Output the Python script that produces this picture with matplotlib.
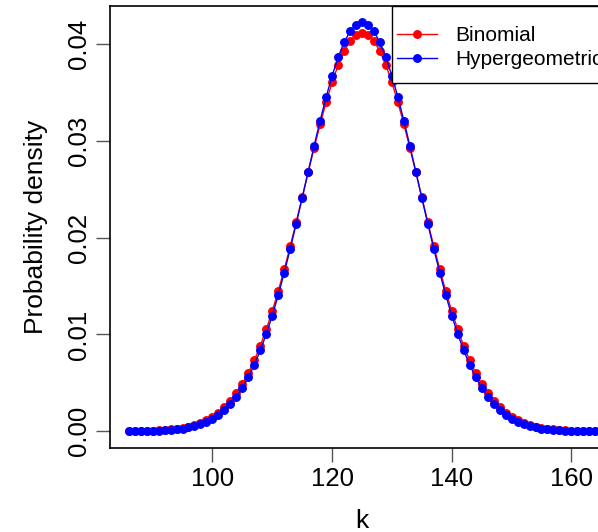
import matplotlib
matplotlib.use("Agg")
import matplotlib.pyplot as plt
from matplotlib.patches import Rectangle

plt.rcParams['font.family'] = ['Liberation Sans', 'DejaVu Sans']

k = list(range(86, 165))

binom_left = [0.00001, 0.00002, 0.00003, 0.00004, 0.00006, 0.00009, 0.00012, 0.00018, 0.00024, 0.00034,
              0.00046, 0.00063, 0.00084, 0.00112, 0.00147, 0.00191, 0.00245, 0.00312, 0.00392, 0.00488,
              0.00601, 0.00732, 0.00882, 0.01052, 0.01241, 0.01448, 0.01673, 0.01911, 0.02161, 0.02417,
              0.02675, 0.02929, 0.03173, 0.03400, 0.03606, 0.03783, 0.03927, 0.04033, 0.04098]
binom_peak = [0.04120]
binom_right = [0.04098, 0.04033, 0.03927, 0.03783, 0.03606, 0.03400, 0.03173, 0.02929, 0.02675, 0.02417,
               0.02161, 0.01911, 0.01673, 0.01448, 0.01241, 0.01052, 0.00882, 0.00732, 0.00601, 0.00488,
               0.00392, 0.00312, 0.00245, 0.00191, 0.00147, 0.00112, 0.00084, 0.00063, 0.00046, 0.00034,
               0.00024, 0.00018, 0.00012, 0.00009, 0.00006, 0.00004, 0.00003, 0.00002, 0.00001]
binomial = binom_left + binom_peak + binom_right

hyper_left = [0.00001, 0.00001, 0.00002, 0.00003, 0.00004, 0.00006, 0.00009, 0.00013, 0.00019, 0.00027,
              0.00038, 0.00052, 0.00071, 0.00095, 0.00127, 0.00167, 0.00217, 0.00279, 0.00356, 0.00448,
              0.00557, 0.00686, 0.00835, 0.01004, 0.01195, 0.01407, 0.01637, 0.01884, 0.02143, 0.02411,
              0.02683, 0.02951, 0.03210, 0.03454, 0.03674, 0.03864, 0.04019, 0.04133, 0.04203]
hyper_peak = [0.04227]
hyper_right = [0.04203, 0.04133, 0.04019, 0.03864, 0.03674, 0.03454, 0.03210, 0.02951, 0.02683, 0.02411,
               0.02143, 0.01884, 0.01637, 0.01407, 0.01195, 0.01004, 0.00835, 0.00686, 0.00557, 0.00448,
               0.00356, 0.00279, 0.00217, 0.00167, 0.00127, 0.00095, 0.00071, 0.00052, 0.00038, 0.00027,
               0.00019, 0.00013, 0.00009, 0.00006, 0.00004, 0.00003, 0.00002, 0.00001, 0.00001]
hypergeometric = hyper_left + hyper_peak + hyper_right

x_ticks = [100, 120, 140, 160]
y_ticks = [0.00, 0.01, 0.02, 0.03, 0.04]
y_tick_labels = ["0.00", "0.01", "0.02", "0.03", "0.04"]

W, H = 598, 532
fig = plt.figure(figsize=(W / 100, H / 100), dpi=100)
L, R, T, B = 110, 614, 6, 447.5
ax = fig.add_axes([L / W, (H - B) / H, (R - L) / W, (B - T) / H])

ax.plot(k, binomial, color='#FF0000', lw=1, marker='o', ms=5.4, mec='#FF0000', label='Binomial')
ax.plot(k, hypergeometric, color='#0000FF', lw=1, marker='o', ms=5.4, mec='#0000FF', label='Hypergeometric')

xr = max(k) - min(k)
ax.set_xlim(min(k) - 0.04 * xr, max(k) + 0.04 * xr)
ymax = max(hypergeometric)
ax.set_ylim(-0.04 * ymax, ymax * 1.04)

ax.set_xticks(x_ticks)
ax.set_xticklabels([str(v) for v in x_ticks])
ax.set_yticks(y_ticks)
ax.set_yticklabels(y_tick_labels, rotation=90, va='center')
ax.tick_params(axis='both', length=10, width=1, color='#555555', labelsize=18.5, pad=4)
for s in ax.spines.values():
    s.set_linewidth(1.2)
    s.set_color('black')

ax.set_xlabel('k', fontsize=19, labelpad=13)
ax.set_ylabel('Probability density', fontsize=19, labelpad=13)

def px_to_ax(xp, yp):
    return (xp - L) / (R - L), (B - yp) / (B - T)

lx, ly = px_to_ax(388, 16.7)
leg = ax.legend(loc='upper left', bbox_to_anchor=(lx, ly), borderaxespad=0,
                fontsize=15, handlelength=1.9, handletextpad=0.9, borderpad=0.45,
                labelspacing=0.25, frameon=False)

fx0, fy0 = px_to_ax(392, 82.7)
fx1, fy1 = px_to_ax(700, 6)
ax.add_patch(Rectangle((fx0, fy0), fx1 - fx0, fy1 - fy0, transform=ax.transAxes,
                       facecolor='white', edgecolor='black', lw=1.0, clip_on=False, zorder=4))
leg.set_zorder(5)

fig.savefig('out.png', dpi=100)
